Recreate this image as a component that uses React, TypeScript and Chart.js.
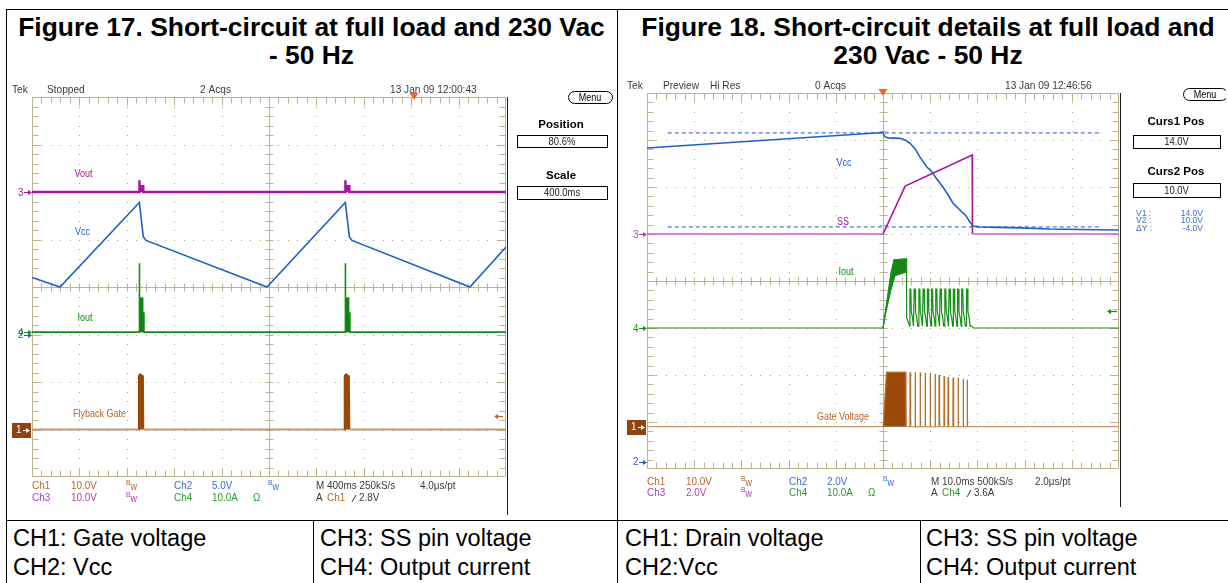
import React, { useEffect, useRef } from 'react';
import { Chart, registerables } from 'chart.js';

Chart.register(...registerables);

// ================= Figure 17 : 400 ms/div, trigger at 80.6 % =================
const f17TimeMin = -3224; // ms
const f17TimeMax = 776;
// CH2 Vcc (V)
const f17VccT = [-3224, -2988, -2318, -2285, -2262, -1241, -580, -546, -524, 472, 776];
const f17VccV = [6.0, 5.0, 13.9, 10.3, 9.9, 5.0, 13.9, 10.3, 9.9, 5.0, 9.2];
// CH3 Vout (V)
const f17VoutT = [-3224, -2319, -2318, -2316, -2286, -2285, -581, -580, -578, -547, -546, 776];
const f17VoutV = [0, 0, 2.5, 1.2, 1.2, 0, 0, 2.5, 1.2, 1.2, 0, 0];
// CH4 Iout (A)
const f17IoutT = [-3224, -2320, -2318, -2316, -2292, -2290, -2280, -2279, -582, -580, -578, -554, -552, -542, -541, 776];
const f17IoutA = [0, 0, 14.5, 7.2, 7.2, 4.0, 4.0, 0, 0, 14.5, 7.2, 7.2, 4.0, 4.0, 0, 0];
// CH1 Flyback gate (V)
const f17GateT = [-3224, -2325, -2322, -2312, -2288, -2285, -588, -585, -575, -550, -546, 776];
const f17GateV = [0, 0, 11.3, 11.6, 11.2, 0, 0, 11.3, 11.6, 11.2, 0, 0];

// ================= Figure 18 : 10 ms/div, trigger centred =================
const f18TimeMin = -50;
const f18TimeMax = 50;
// CH2 Vcc (V)
const f18VccT = [-50, 0, 0.4, 1.1, 3.6, 4.7, 5.7, 6.8, 7.8, 9.3, 10.4, 11.2, 12.7, 13.8, 14.8, 16.3, 17.6, 18.4, 19.1, 20.6, 24.8, 29.0, 35.4, 41.7, 50];
const f18VccV = [13.36, 14.02, 13.83, 13.79, 13.77, 13.7, 13.57, 13.32, 12.98, 12.55, 12.34, 12.09, 11.7, 11.36, 11.02, 10.72, 10.47, 10.21, 10.04, 10.0, 9.98, 9.96, 9.91, 9.89, 9.87];
// CH3 SS pin (V)
const f18SsT = [-50, 0, 4.7, 18.9, 18.95, 50];
const f18SsV = [0, 0, 2.04, 3.36, 0, 0];
// CH4 Iout (A): start-up envelope and pulses
const f18IoutStartT = [-50, 0, 2.33, 4.98, 5.0];
const f18IoutStartA = [0, 0, 14.5, 14.7, 2.2];
const f18IoutBandT = [0, 0.85, 1.69, 2.33, 4.98, 4.98, 2.54, 1.69, 0.64, 0];
const f18IoutBandA = [0, 6.0, 11.9, 14.5, 14.7, 11.9, 11.1, 8.1, 3.4, 0];
const f18PulseT = [5.7, 6.6, 7.6, 8.5, 9.4, 10.3, 11.2, 12.1, 13.1, 14.0, 14.9, 15.8, 16.7, 17.7];
const f18PulsePeakA = [8.3, 8.3, 8.3, 8.3, 8.3, 8.3, 8.3, 8.3, 8.3, 8.3, 8.3, 8.3, 8.3, 8.3];
const f18PulseShoulderA = [3.4, 2.2, 0.4];
const f18IoutEndT = [18.6, 19.1, 50];
const f18IoutEndA = [0.5, 0, 0];
// CH1 Drain / gate voltage (V)
const f18GateBlockT = [-50, 0.05, 0.75, 4.85, 4.9];
const f18GateBlockV = [0, 0, 11.6, 11.6, 0];
const f18GateSpikeT = [5.72, 6.78, 7.84, 8.9, 9.96, 11.02, 11.86, 12.92, 13.77, 14.83, 15.89, 16.95, 17.8];
const f18GateSpikeV = [11.6, 11.6, 11.6, 11.4, 11.4, 11.2, 11.0, 10.8, 10.6, 10.4, 10.4, 10.2, 10.0];
// Cursors on CH2 (V)
const f18Cursors = [14.0, 10.0];
const f18CursorSpan = [-45.6, 46.4];

// ---------------- channel offsets (divisions) and scales (units/div) ----------------
const F17 = { ch1: { off: -3.0, sc: 10 }, ch2: { off: -1.0, sc: 5 }, ch3: { off: 2.0, sc: 10 }, ch4: { off: -0.95, sc: 10 } };
const F18 = { ch1: { off: -3.1, sc: 10 }, ch2: { off: -3.85, sc: 2 }, ch3: { off: 1.0, sc: 2 }, ch4: { off: -1.0, sc: 10 } };

const COL = {
  ch1Fill: '#9a4a06', ch1Base: '#c49a74', ch1Text: '#b5662a', ch1Box: '#8c4510', ch1Spike: '#b8702e',
  ch2: '#1f5fc4', ch2Text: '#3a6fcf',
  ch3: '#a4189f', ch3b: '#b440b4', ch3Text: '#b03cb0',
  ch4: '#138c13', ch4Text: '#2a9a2a',
  text: '#3a3a3a', grid: '#bdb38d', dot: '#b0a682', trig: '#f5651d',
};

const FONT = '"Liberation Sans", Arial, Helvetica, sans-serif';

const pts = (ts: number[], vs: number[], ch: { off: number; sc: number }) =>
  ts.map((t, i) => ({ x: t, y: ch.off + vs[i] / ch.sc }));

function buildIout18() {
  const t = [...f18IoutStartT];
  const a = [...f18IoutStartA];
  f18PulseT.forEach((p, i) => {
    t.push(p - 0.05, p, p + 0.2, p + 0.3, p + 0.55, p + 0.75);
    a.push(f18PulseShoulderA[2], f18PulsePeakA[i], f18PulsePeakA[i], f18PulseShoulderA[0], f18PulseShoulderA[1], f18PulseShoulderA[2]);
  });
  t.push(...f18IoutEndT);
  a.push(...f18IoutEndA);
  return pts(t, a, F18.ch4);
}

function buildGate18() {
  const t = [...f18GateBlockT];
  const v = [...f18GateBlockV];
  f18GateSpikeT.forEach((s, i) => {
    t.push(s, s + 0.02, s + 0.12);
    v.push(0, f18GateSpikeV[i], 0);
  });
  t.push(50);
  v.push(0);
  return pts(t, v, F18.ch1);
}

// ---------------- drawing helpers ----------------
function drawText(ctx: CanvasRenderingContext2D, s: string, x: number, y: number, color: string, size: number, opts: any = {}) {
  const { align = 'left', bold = false, sx = 0.9 } = opts;
  ctx.save();
  ctx.font = `${bold ? 'bold ' : ''}${size}px ${FONT}`;
  ctx.fillStyle = color;
  ctx.textBaseline = 'middle';
  ctx.textAlign = 'left';
  const w = ctx.measureText(s).width * sx;
  const x0 = align === 'center' ? x - w / 2 : align === 'right' ? x - w : x;
  ctx.translate(x0, y);
  ctx.scale(sx, 1);
  ctx.fillText(s, 0, 0);
  ctx.restore();
  return w;
}

function drawGrid(ctx: CanvasRenderingContext2D, ca: any) {
  const l = ca.left, t = ca.top, r = ca.right, b = ca.bottom;
  const dx = (r - l) / 10, dy = (b - t) / 8;
  ctx.save();
  ctx.fillStyle = COL.dot;
  for (let i = 1; i < 10; i++) {
    if (i === 5) continue;
    const x = Math.round(l + i * dx);
    for (let j = 1; j < 40; j++) ctx.fillRect(x, Math.round(t + (j * dy) / 5), 1, 1);
  }
  for (let j = 1; j < 8; j++) {
    if (j === 4) continue;
    const y = Math.round(t + j * dy);
    for (let i = 1; i < 50; i++) ctx.fillRect(Math.round(l + (i * dx) / 5), y, 1, 1);
  }
  ctx.strokeStyle = COL.grid;
  ctx.lineWidth = 1;
  ctx.beginPath();
  const L = Math.round(l) + 0.5, R = Math.round(r) - 0.5, T = Math.round(t) + 0.5, B = Math.round(b) - 0.5;
  const cx = Math.round(l + 5 * dx) + 0.5, cy = Math.round(t + 4 * dy) + 0.5;
  ctx.moveTo(L, T); ctx.lineTo(R, T); ctx.lineTo(R, B); ctx.lineTo(L, B); ctx.closePath();
  ctx.moveTo(cx, T); ctx.lineTo(cx, B);
  ctx.moveTo(L, cy); ctx.lineTo(R, cy);
  for (let i = 1; i < 50; i++) {
    const x = Math.round(l + (i * dx) / 5) + 0.5;
    const len = i % 5 === 0 ? 8 : 6;
    ctx.moveTo(x, T); ctx.lineTo(x, T + len);
    ctx.moveTo(x, B); ctx.lineTo(x, B - len);
    ctx.moveTo(x, cy - 4); ctx.lineTo(x, cy + 4);
  }
  for (let j = 1; j < 40; j++) {
    const y = Math.round(t + (j * dy) / 5) + 0.5;
    const len = j % 5 === 0 ? 8 : 6;
    ctx.moveTo(L, y); ctx.lineTo(L + len, y);
    ctx.moveTo(R, y); ctx.lineTo(R - len, y);
    ctx.moveTo(cx - 4, y); ctx.lineTo(cx + 4, y);
  }
  ctx.stroke();
  // dark screen edge on the right
  ctx.strokeStyle = '#1a1a1a';
  ctx.beginPath();
  ctx.moveTo(Math.round(r) + 1.5, t);
  ctx.lineTo(Math.round(r) + 1.5, b + 38);
  ctx.stroke();
  ctx.restore();
}

function arrowRight(ctx: CanvasRenderingContext2D, x1: number, x2: number, y: number, color: string) {
  ctx.save();
  ctx.strokeStyle = color; ctx.fillStyle = color; ctx.lineWidth = 1;
  ctx.beginPath(); ctx.moveTo(x1, y + 0.5); ctx.lineTo(x2 - 2, y + 0.5); ctx.stroke();
  ctx.beginPath(); ctx.moveTo(x2, y + 0.5); ctx.lineTo(x2 - 4, y - 2); ctx.lineTo(x2 - 4, y + 3); ctx.closePath(); ctx.fill();
  ctx.restore();
}

function arrowLeft(ctx: CanvasRenderingContext2D, x1: number, x2: number, y: number, color: string) {
  ctx.save();
  ctx.strokeStyle = color; ctx.fillStyle = color; ctx.lineWidth = 1.2;
  ctx.beginPath(); ctx.moveTo(x1 + 2, y + 0.5); ctx.lineTo(x2, y + 0.5); ctx.stroke();
  ctx.beginPath(); ctx.moveTo(x1, y + 0.5); ctx.lineTo(x1 + 4, y - 2); ctx.lineTo(x1 + 4, y + 3); ctx.closePath(); ctx.fill();
  ctx.restore();
}

function chMarker(ctx: CanvasRenderingContext2D, label: string, gx: number, y: number, color: string, boxed = false) {
  if (boxed) {
    ctx.save();
    ctx.fillStyle = COL.ch1Box;
    ctx.fillRect(gx - 20, Math.round(y) - 7, 19, 15);
    ctx.restore();
    drawText(ctx, label, gx - 16, y + 0.5, '#ffffff', 11, { sx: 0.9 });
    arrowRight(ctx, gx - 9, gx - 2, Math.round(y), '#ffffff');
  } else {
    drawText(ctx, label, gx - 14, y + 0.5, color, 11, { sx: 0.9 });
    arrowRight(ctx, gx - 8, gx, Math.round(y), color);
  }
}

function drawMenu(ctx: CanvasRenderingContext2D, x: number, y: number, w: number, h: number) {
  ctx.save();
  ctx.strokeStyle = '#000'; ctx.lineWidth = 1;
  ctx.beginPath();
  (ctx as any).roundRect(x + 0.5, y + 0.5, w, h, 6);
  ctx.stroke();
  ctx.restore();
  drawText(ctx, 'Menu', x + w / 2, y + h / 2 + 1, '#000', 10, { align: 'center', sx: 0.9 });
}

function box(ctx: CanvasRenderingContext2D, x: number, y: number, w: number, h: number, s: string) {
  ctx.save();
  ctx.fillStyle = '#fff';
  ctx.fillRect(x, y, w, h);
  ctx.strokeStyle = '#000'; ctx.lineWidth = 1;
  ctx.strokeRect(x + 0.5, y + 0.5, w, h);
  ctx.restore();
  drawText(ctx, s, x + w / 2, y + h / 2 + 1, '#222', 10.5, { align: 'center', sx: 0.9 });
}

function drawBw(ctx: CanvasRenderingContext2D, x: number, y: number, color: string) {
  drawText(ctx, 'B', x, y - 3, color, 7.5, { sx: 0.9 });
  drawText(ctx, 'w', x + 4.5, y + 1, color, 10, { sx: 0.9 });
}

function drawEdge(ctx: CanvasRenderingContext2D, x: number, y: number, color: string) {
  ctx.save();
  ctx.strokeStyle = color; ctx.lineWidth = 1;
  ctx.beginPath(); ctx.moveTo(x, y + 4); ctx.lineTo(x + 4, y - 3); ctx.stroke();
  ctx.restore();
}

function drawRow(ctx: CanvasRenderingContext2D, x0: number, y: number, items: any[]) {
  items.forEach(([s, dx, color]) => {
    if (s === 'Bw') drawBw(ctx, x0 + dx, y, color);
    else if (s === 'EDGE') drawEdge(ctx, x0 + dx, y, color);
    else drawText(ctx, s, x0 + dx, y, color, 11, { sx: 0.9 });
  });
}

function drawTrigger(ctx: CanvasRenderingContext2D, x: number, top: number) {
  ctx.save();
  ctx.fillStyle = COL.trig;
  ctx.beginPath();
  ctx.moveTo(x - 4.5, top - 4); ctx.lineTo(x + 4.5, top - 4); ctx.lineTo(x, top + 3); ctx.closePath();
  ctx.fill();
  ctx.restore();
}

// ---------------- scope overlays ----------------
const fig17Plugin = {
  id: 'fig17scope',
  beforeDatasetsDraw(chart: any) { drawGrid(chart.ctx, chart.chartArea); },
  afterDatasetsDraw(chart: any) {
    const ctx = chart.ctx as CanvasRenderingContext2D;
    const ca = chart.chartArea; const xs = chart.scales.x; const ys = chart.scales.y;
    const gx = ca.left, gy = ca.top, gb = ca.bottom, gr = ca.right;
    const hy = gy - 7;
    drawText(ctx, 'Tek', gx - 20, hy, COL.text, 11, { sx: 0.92 });
    drawText(ctx, 'Stopped', gx + 15, hy, COL.text, 11, { sx: 0.92 });
    drawText(ctx, '2 Acqs', gx + 168, hy, COL.text, 11, { sx: 0.92 });
    drawText(ctx, '13 Jan 09 12:00:43', gx + 358, hy, COL.text, 11, { sx: 0.92 });
    drawTrigger(ctx, xs.getPixelForValue(0), gy);
    drawMenu(ctx, gx + 536, gy - 6, 44, 12);
    drawText(ctx, 'Position', gx + 529, gy + 28, '#000', 11.5, { align: 'center', bold: true, sx: 1 });
    box(ctx, gx + 485, gy + 38, 90, 12, '80.6%');
    drawText(ctx, 'Scale', gx + 529, gy + 79, '#000', 11.5, { align: 'center', bold: true, sx: 1 });
    box(ctx, gx + 485, gy + 89, 90, 13, '400.0ms');
    // channel ground markers
    chMarker(ctx, '3', gx, ys.getPixelForValue(F17.ch3.off), COL.ch3);
    chMarker(ctx, '2', gx, ys.getPixelForValue(F17.ch2.off), COL.ch2);
    chMarker(ctx, '4', gx, ys.getPixelForValue(F17.ch4.off), COL.ch4);
    chMarker(ctx, '1', gx, ys.getPixelForValue(F17.ch1.off), COL.ch1Box, true);
    // trace labels
    drawText(ctx, 'Vout', xs.getPixelForValue(-2789), ys.getPixelForValue(2.38), COL.ch3, 10, { align: 'center' });
    drawText(ctx, 'Vcc', xs.getPixelForValue(-2798), ys.getPixelForValue(1.16), COL.ch2, 10, { align: 'center' });
    drawText(ctx, 'Iout', xs.getPixelForValue(-2777), ys.getPixelForValue(-0.65), COL.ch4, 10, { align: 'center' });
    drawText(ctx, 'Flyback Gate', xs.getPixelForValue(-2654), ys.getPixelForValue(-2.67), COL.ch1Text, 10, { align: 'center' });
    // trigger level (Ch1 2.8 V)
    arrowLeft(ctx, gr - 12, gr - 3, Math.round(ys.getPixelForValue(F17.ch1.off + 2.8 / F17.ch1.sc)), COL.ch1Text);
    // readouts
    drawRow(ctx, gx, gb + 9, [
      ['Ch1', 0, COL.ch1Text], ['10.0V', 39, COL.ch1Text], ['Bw', 94, COL.ch1Text],
      ['Ch2', 142, COL.ch2Text], ['5.0V', 180, COL.ch2Text], ['Bw', 236, COL.ch2Text],
      ['M 400ms 250kS/s', 284, COL.text], ['4.0\u03bcs/pt', 388, COL.text],
    ]);
    drawRow(ctx, gx, gb + 21, [
      ['Ch3', 0, COL.ch3Text], ['10.0V', 39, COL.ch3Text], ['Bw', 94, COL.ch3Text],
      ['Ch4', 142, COL.ch4Text], ['10.0A', 180, COL.ch4Text], ['\u03a9', 221, COL.ch4Text],
      ['A', 284, COL.text], ['Ch1', 295, COL.ch1Text], ['EDGE', 320, COL.text], ['2.8V', 327, COL.text],
    ]);
  },
};

const fig18Plugin = {
  id: 'fig18scope',
  beforeDatasetsDraw(chart: any) { drawGrid(chart.ctx, chart.chartArea); },
  afterDatasetsDraw(chart: any) {
    const ctx = chart.ctx as CanvasRenderingContext2D;
    const ca = chart.chartArea; const xs = chart.scales.x; const ys = chart.scales.y;
    const gx = ca.left, gy = ca.top, gb = ca.bottom, gr = ca.right;
    const hy = gy - 7;
    drawText(ctx, 'Tek', gx - 20, hy, COL.text, 11, { sx: 0.92 });
    drawText(ctx, 'Preview', gx + 16, hy, COL.text, 11, { sx: 0.92 });
    drawText(ctx, 'Hi Res', gx + 63, hy, COL.text, 11, { sx: 0.92 });
    drawText(ctx, '0 Acqs', gx + 168, hy, COL.text, 11, { sx: 0.92 });
    drawText(ctx, '13 Jan 09 12:46:56', gx + 358, hy, COL.text, 11, { sx: 0.92 });
    drawTrigger(ctx, xs.getPixelForValue(0), gy);
    drawMenu(ctx, gx + 536, gy - 5, 44, 12);
    drawText(ctx, 'Curs1 Pos', gx + 529, gy + 29, '#000', 11.5, { align: 'center', bold: true, sx: 1 });
    box(ctx, gx + 486, gy + 42, 87, 13, '14.0V');
    drawText(ctx, 'Curs2 Pos', gx + 529, gy + 79, '#000', 11.5, { align: 'center', bold: true, sx: 1 });
    box(ctx, gx + 486, gy + 90, 87, 14, '10.0V');
    const rows = [['V1 :', '14.0V'], ['V2 :', '10.0V'], ['\u0394Y :', '-4.0V']];
    rows.forEach(([a, b], i) => {
      const y = gy + 120 + i * 7.5;
      drawText(ctx, a, gx + 489, y, COL.ch2Text, 9.5, { sx: 0.9 });
      drawText(ctx, b, gx + 556, y, COL.ch2Text, 9.5, { align: 'right', sx: 0.9 });
    });
    chMarker(ctx, '3', gx, ys.getPixelForValue(F18.ch3.off), COL.ch3b);
    chMarker(ctx, '4', gx, ys.getPixelForValue(F18.ch4.off), COL.ch4);
    chMarker(ctx, '1', gx, ys.getPixelForValue(F18.ch1.off), COL.ch1Box, true);
    chMarker(ctx, '2', gx, ys.getPixelForValue(F18.ch2.off), COL.ch2);
    drawText(ctx, 'Vcc', xs.getPixelForValue(-8.26), ys.getPixelForValue(2.51), COL.ch2, 10, { align: 'center' });
    drawText(ctx, 'SS', xs.getPixelForValue(-8.47), ys.getPixelForValue(1.26), COL.ch3, 10, { align: 'center' });
    drawText(ctx, 'Iout', xs.getPixelForValue(-7.84), ys.getPixelForValue(0.19), COL.ch4, 10, { align: 'center' });
    drawText(ctx, 'Gate Voltage', xs.getPixelForValue(-8.47), ys.getPixelForValue(-2.89), COL.ch1Text, 10, { align: 'center' });
    arrowLeft(ctx, gr - 12, gr - 2, Math.round(ys.getPixelForValue(F18.ch4.off + 3.6 / F18.ch4.sc)), COL.ch4);
    drawRow(ctx, gx, gb + 13, [
      ['Ch1', 0, COL.ch1Text], ['10.0V', 39, COL.ch1Text], ['Bw', 94, COL.ch1Text],
      ['Ch2', 142, COL.ch2Text], ['2.0V', 180, COL.ch2Text], ['Bw', 236, COL.ch2Text],
      ['M 10.0ms 500kS/s', 284, COL.text], ['2.0\u03bcs/pt', 388, COL.text],
    ]);
    drawRow(ctx, gx, gb + 24, [
      ['Ch3', 0, COL.ch3Text], ['2.0V', 39, COL.ch3Text], ['Bw', 94, COL.ch3Text],
      ['Ch4', 142, COL.ch4Text], ['10.0A', 180, COL.ch4Text], ['\u03a9', 221, COL.ch4Text],
      ['A', 284, COL.text], ['Ch4', 295, COL.ch4Text], ['EDGE', 320, COL.text], ['3.6A', 327, COL.text],
    ]);
  },
};

const baseOptions = (xmin: number, xmax: number, padding: any) => ({
  responsive: false,
  animation: false as const,
  events: [] as any[],
  layout: { padding },
  scales: {
    x: { type: 'linear' as const, min: xmin, max: xmax, display: false },
    y: { type: 'linear' as const, min: -4, max: 4, display: false },
  },
  plugins: { legend: { display: false }, tooltip: { enabled: false }, title: { display: false } },
  elements: { point: { radius: 0 }, line: { tension: 0 } },
});

const segColor = (base: number, on: string, off: string) => ({
  borderColor: (c: any) => (Math.abs(c.p0.parsed.y - base) < 1e-6 && Math.abs(c.p1.parsed.y - base) < 1e-6 ? off : on),
});

function fig17Config(): any {
  return {
    type: 'line',
    data: {
      datasets: [
        { data: pts(f17VoutT, f17VoutV, F17.ch3), borderColor: COL.ch3, borderWidth: 2.5, fill: { value: F17.ch3.off }, backgroundColor: COL.ch3 },
        { data: pts(f17VccT, f17VccV, F17.ch2), borderColor: COL.ch2, borderWidth: 1.6, fill: false },
        { data: pts(f17IoutT, f17IoutA, F17.ch4), borderColor: COL.ch4, borderWidth: 1.6, fill: { value: F17.ch4.off }, backgroundColor: '#0e820e' },
        {
          data: pts(f17GateT, f17GateV, F17.ch1), borderColor: COL.ch1Base, borderWidth: 2,
          segment: segColor(F17.ch1.off, COL.ch1Fill, COL.ch1Base),
          fill: { value: F17.ch1.off }, backgroundColor: COL.ch1Fill,
        },
      ],
    },
    options: baseOptions(f17TimeMin, f17TimeMax, { left: 24, top: 19, right: 110, bottom: 41 }),
    plugins: [fig17Plugin],
  };
}

function fig18Config(): any {
  const cursorSets = f18Cursors.map((v) => ({
    data: pts(f18CursorSpan, [v, v], F18.ch2), borderColor: '#2356c6', borderWidth: 1, borderDash: [4, 3], fill: false,
  }));
  return {
    type: 'line',
    data: {
      datasets: [
        { data: pts(f18VccT, f18VccV, F18.ch2), borderColor: COL.ch2, borderWidth: 1.6, fill: false },
        ...cursorSets,
        {
          data: pts(f18SsT, f18SsV, F18.ch3), borderColor: COL.ch3b, borderWidth: 1.6, fill: false,
          segment: segColor(F18.ch3.off, COL.ch3, '#c860c8'),
        },
        { data: buildIout18(), borderColor: '#1a8f1a', borderWidth: 1.2, fill: false },
        { data: pts(f18IoutBandT, f18IoutBandA, F18.ch4), borderColor: '#1a8a1a', borderWidth: 1, fill: 'shape', backgroundColor: '#168516' },
        {
          data: buildGate18(), borderColor: COL.ch1Base, borderWidth: 1.3,
          segment: segColor(F18.ch1.off, COL.ch1Spike, COL.ch1Base),
          fill: { value: F18.ch1.off }, backgroundColor: COL.ch1Fill,
        },
      ],
    },
    options: baseOptions(f18TimeMin, f18TimeMax, { left: 28, top: 15, right: 107, bottom: 49 }),
    plugins: [fig18Plugin],
  };
}

function Scope({ make, left, top, width, height }: any) {
  const ref = useRef<HTMLCanvasElement>(null);
  useEffect(() => {
    const chart = new Chart(ref.current as HTMLCanvasElement, make());
    return () => chart.destroy();
  }, []);
  return <canvas ref={ref} width={width} height={height} style={{ position: 'absolute', left, top, width, height }} />;
}

const FONT_CSS = '"Liberation Sans", Arial, Helvetica, sans-serif';

function Line({ x, y, w, h }: any) {
  return <div style={{ position: 'absolute', left: x, top: y, width: w, height: h, background: '#000' }} />;
}

export default function App() {
  const title: any = {
    position: 'absolute', top: 13, fontFamily: FONT_CSS, fontWeight: 'bold', fontSize: 26.4,
    lineHeight: '28px', textAlign: 'center', color: '#000', whiteSpace: 'nowrap',
  };
  const cap: any = {
    position: 'absolute', top: 524, fontFamily: FONT_CSS, fontSize: 23.5, lineHeight: '29px', color: '#000', whiteSpace: 'nowrap',
  };
  return (
    <div style={{ position: 'absolute', left: 0, top: 0, width: 1228, height: 583, background: '#fff', overflow: 'hidden' }}>
      <Line x={6} y={9} w={1222} h={1} />
      <Line x={6} y={9} w={1} h={574} />
      <Line x={617} y={9} w={1} h={574} />
      <Line x={6} y={520} w={1222} h={1} />
      <Line x={313} y={520} w={1} h={63} />
      <Line x={920} y={520} w={1} h={63} />
      <div style={{ ...title, left: 6, width: 611 }}>Figure 17. Short-circuit at full load and 230 Vac<br />- 50 Hz</div>
      <div style={{ ...title, left: 618, width: 620 }}>Figure 18. Short-circuit details at full load and<br />230 Vac - 50 Hz</div>
      <Scope make={fig17Config} left={8} top={78} width={608} height={440} />
      <Scope make={fig18Config} left={619} top={78} width={607} height={440} />
      <div style={{ ...cap, left: 13 }}>CH1: Gate voltage<br />CH2: Vcc</div>
      <div style={{ ...cap, left: 320 }}>CH3: SS pin voltage<br />CH4: Output current</div>
      <div style={{ ...cap, left: 625 }}>CH1: Drain voltage<br />CH2:Vcc</div>
      <div style={{ ...cap, left: 926 }}>CH3: SS pin voltage<br />CH4: Output current</div>
    </div>
  );
}
